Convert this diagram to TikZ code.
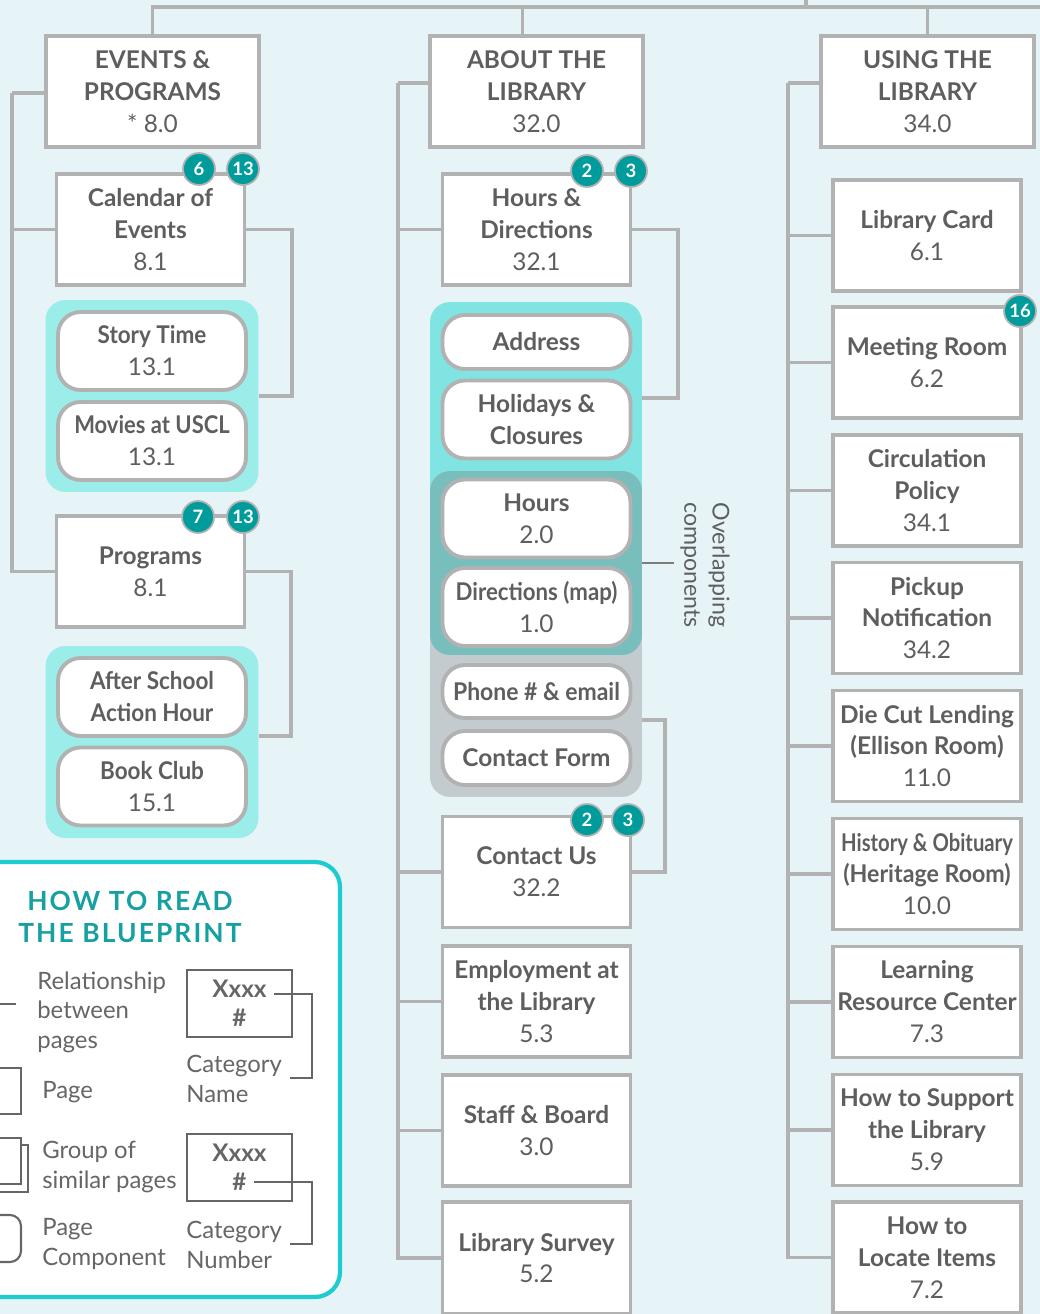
\documentclass[tikz,border=0pt]{standalone}
\usepackage{fontspec}
\setmainfont{Lato}
\usepackage{graphicx}
\usepackage{tikz}
\usetikzlibrary{backgrounds}

\definecolor{bgblue}{HTML}{E6F4F8}
\definecolor{linegray}{HTML}{B2B2B2}
\definecolor{txtgray}{HTML}{5E5E5E}
\definecolor{keygray}{HTML}{666666}
\definecolor{grpteal}{HTML}{9BEDE9}
\definecolor{grpcyan}{HTML}{80E5E2}
\definecolor{grpgray}{HTML}{C3CBCE}
\definecolor{grpdark}{HTML}{78BEBD}
\definecolor{badgeteal}{HTML}{009C9C}
\definecolor{keyteal}{HTML}{1ECBCE}
\definecolor{titleteal}{HTML}{17A0A2}

\newcommand{\pnum}[1]{{\mdseries #1}}
\newcommand{\cnd}[2][0.92]{\scalebox{#1}[1]{#2}}

\begin{document}
\begin{tikzpicture}[x=0.02cm, y=-0.02cm,
	every node/.style={text=txtgray},
	page/.style={draw=linegray, line width=2.2pt, fill=white, align=center, inner sep=1pt,
		minimum width=3.76cm, minimum height=2.22cm, font=\fontsize{13.9}{18.2}\selectfont\bfseries},
	head/.style={page, minimum width=4.26cm},
	comp/.style={page, rounded corners=0.45cm, minimum height=1.56cm},
	group/.style={rounded corners=0.4cm, minimum width=4.26cm, inner sep=0pt},
	badge/.style={circle, fill=badgeteal, draw=linegray, line width=1pt, text=white,
		font=\fontsize{10.5}{12}\selectfont\bfseries, minimum size=0.64cm, inner sep=0pt},
	link/.style={draw=linegray, line width=2.2pt},
	keyline/.style={draw=keygray, line width=1.2pt},
	keytext/.style={align=left, text=keygray, inner sep=0pt, font=\fontsize{13.6}{16.8}\selectfont},
	keybox/.style={draw=keygray, line width=1.2pt, fill=white, align=center, text=keygray,
		minimum width=2.1cm, minimum height=1.34cm, inner sep=0pt, font=\fontsize{13.8}{16.5}\selectfont\bfseries}]
	\useasboundingbox (0,0) rectangle (1040,1314);

	% groups of components
	\node[group, fill=grpteal, minimum height=3.84cm] (g1) at (152,396) {};
	\node[group, fill=grpteal, minimum height=3.84cm] (g2) at (152,742) {};
	\node[group, fill=grpcyan, minimum width=4.24cm, minimum height=7.06cm] (ga) at (536,478.5) {};
	\node[group, fill=grpgray, minimum width=4.24cm, minimum height=6.52cm] (gg) at (536,634) {};
	\node[group, fill=grpdark, minimum width=4.24cm, minimum height=3.68cm] (gx) at (536,563) {};

	% events & programs
	\node[head] (events) at (152.5,91.5) {EVENTS \&\\PROGRAMS\\\pnum{* 8.0}};
	\node[page] (cal) at (150.5,229.5) {Calendar of\\Events\\\pnum{8.1}};
	\node[comp] (story) at (152,351) {\cnd{Story Time}\\\pnum{13.1}};
	\node[comp] (movies) at (152,441) {\cnd[0.9]{Movies at USCL}\\\pnum{13.1}};
	\node[page] (prog) at (150.5,571.5) {Programs\\\pnum{8.1}};
	\node[comp] (after) at (152,697) {\cnd{After School}\\\cnd{Action Hour}};
	\node[comp] (book) at (152,786.5) {\cnd{Book Club}\\\pnum{15.1}};

	% about the library
	\node[head] (about) at (536.5,91.5) {ABOUT THE\\LIBRARY\\\pnum{32.0}};
	\node[page] (hd) at (536.5,229.5) {Hours \&\\Directions\\\pnum{32.1}};
	\node[comp, minimum height=1.08cm] (addr) at (536.5,342) {Address};
	\node[comp] (hol) at (536.5,419.5) {Holidays \&\\Closures};
	\node[comp] (hours) at (536.5,518.5) {Hours\\\pnum{2.0}};
	\node[comp] (dirs) at (536.5,607) {\cnd[0.91]{Directions (map)}\\\pnum{1.0}};
	\node[comp, minimum height=1.06cm] (phone) at (536.5,691.5) {\cnd[0.94]{Phone \# \& email}};
	\node[comp, minimum height=1.08cm] (cform) at (536.5,758) {Contact Form};
	\node[page] (cu) at (536.5,872) {Contact Us\\\pnum{32.2}};
	\node[page] (emp) at (536.5,1001.5) {Employment at\\the Library\\\pnum{5.3}};
	\node[page] (staff) at (536.5,1130.5) {Staff \& Board\\\pnum{3.0}};
	\node[page, minimum height=2.24cm] (survey) at (536.5,1258) {Library Survey\\\pnum{5.2}};
	\node[rotate=-90, align=center, font=\fontsize{13.2}{16}\selectfont] (olab) at (705,565) {Overlapping\\components};

	% using the library
	\node[head] (using) at (927.5,91.5) {USING THE\\LIBRARY\\\pnum{34.0}};
	\node[page] (card) at (927,235.5) {Library Card\\\pnum{6.1}};
	\node[page] (meet) at (927,362.5) {Meeting Room\\\pnum{6.2}};
	\node[page] (circ) at (927,490.5) {Circulation\\Policy\\\pnum{34.1}};
	\node[page] (pick) at (927,618) {Pickup\\Notification\\\pnum{34.2}};
	\node[page] (die) at (927,746) {Die Cut Lending\\(Ellison Room)\\\pnum{11.0}};
	\node[page] (hist) at (927,874) {\cnd[0.83]{History \& Obituary}\\\cnd[0.95]{(Heritage Room)}\\\pnum{10.0}};
	\node[page] (learn) at (927,1002) {Learning\\Resource Center\\\pnum{7.3}};
	\node[page] (support) at (927,1130) {How to Support\\the Library\\\pnum{5.9}};
	\node[page] (locate) at (927,1257.5) {How to\\Locate Items\\\pnum{7.2}};

	% badges
	\node[badge] (b6) at (199,169) {6};
	\node[badge] (b13a) at (243,169) {13};
	\node[badge] (b7) at (198,517) {7};
	\node[badge] (b13b) at (243,517) {13};
	\node[badge] (b2a) at (587,171) {2};
	\node[badge] (b3a) at (631,171) {3};
	\node[badge] (b2b) at (587,820) {2};
	\node[badge] (b3b) at (628,820) {3};
	\node[badge] (b16) at (1020,311) {16};

	% connectors
	\coordinate (bus) at (806,7);
	\coordinate (busend) at (1060,7);
	\coordinate (root) at (806,-10);
	\coordinate (spA) at (12,93);
	\coordinate (spB) at (398,83);
	\coordinate (spC) at (788,83);
	\coordinate (gaTie) at (642,398);
	\begin{scope}[on background layer]
		\fill[bgblue] (0,0) rectangle (1040,1314);
		\draw[link] (events.north) |- (busend);
		\draw[link] ([xshift=-0.28cm]about.north) -- ([xshift=-0.28cm]about.north |- bus);
		\draw[link] (using.north) -- (using.north |- bus);
		\draw[link] (bus) -- (root);
		% column A
		\draw[link] (spA) -- (spA -| events.west);
		\draw[link] (spA) |- (prog.west);
		\draw[link] (spA |- cal.west) -- (cal.west);
		\draw[link] (cal.east) -- ++(46,0) |- (g1.east);
		\draw[link] (prog.east) -- ++(45,0) |- ([yshift=0.12cm]g2.east);
		% column B
		\draw[link] (spB) -- (spB -| about.west);
		\draw[link] (spB) |- (survey.west);
		\foreach \p in {hd,cu,emp,staff}
			\draw[link] (spB |- \p.west) -- (\p.west);
		\draw[link] (hd.east) -- ++(46,0) |- (gaTie);
		\draw[link] (phone.south -| gg.east) -- ++(23,0) |- (cu.east);
		% column C
		\draw[link] (spC) -- (spC -| using.west);
		\draw[link] (spC) |- (locate.west);
		\foreach \p in {card,meet,circ,pick,die,hist,learn,support}
			\draw[link] (spC |- \p.west) -- (\p.west);
	\end{scope}
	\draw[line width=1.2pt, draw=keygray!85] (gx.east) -- (gx.east -| olab.south);

	% how to read the blueprint
	\draw[draw=keyteal, line width=2.4pt, fill=white, rounded corners=0.5cm] (-40,862) rectangle (340,1297);
	\node[align=center, text=titleteal, font=\fontsize{15}{18.2}\selectfont\bfseries\addfontfeatures{LetterSpace=8}] (ktitle) at (130,917) {HOW TO READ\\THE BLUEPRINT};
	\draw[keyline] (-10,1004) -- (16,1004);
	\draw[keyline] (-40,1068) rectangle (21,1114);
	\draw[keyline] (-40,1145) rectangle (28,1192);
	\draw[keyline, fill=white] (-40,1138) rectangle (21,1184);
	\draw[keyline, rounded corners=0.22cm] (-40,1215) rectangle (21,1262);
	\node[keytext, anchor=west] (krel) at (37,1012) {Relationship\\between\\pages};
	\node[keytext, anchor=west] (kpage) at (42,1092) {Page};
	\node[keytext, anchor=west] (kgroup) at (42,1167) {Group of\\similar pages};
	\node[keytext, anchor=west] (kcomp) at (42,1244) {Page\\Component};
	\node[keybox] (kname) at (239.5,1003.5) {Xxxx\\\#};
	\node[keybox] (knum) at (239.5,1167.5) {Xxxx\\\#};
	\node[keytext, anchor=west] (kcatn) at (186,1079) {Category\\Name};
	\node[keytext, anchor=west] (kcatm) at (186,1245) {Category\\Number};
	\coordinate (knameTie) at (274,994);
	\coordinate (knameEnd) at (290,1078);
	\coordinate (knumTie) at (254,1182);
	\coordinate (knumEnd) at (290,1244);
	\draw[keyline] (knameTie) -- ++(38,0) |- (knameEnd);
	\draw[keyline] (knumTie) -- ++(58,0) |- (knumEnd);
\end{tikzpicture}
\end{document}
